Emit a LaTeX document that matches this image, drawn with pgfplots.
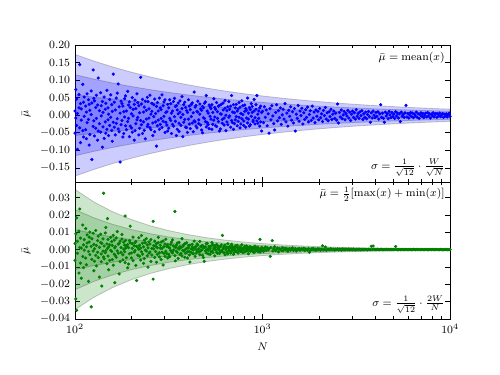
\documentclass[border=0pt]{standalone}
\usepackage{pgfplots}
\pgfplotsset{compat=1.18}
\usepackage{pgfplotstable}
\definecolor{mplblue}{RGB}{0,0,255}
\definecolor{mplgreen}{RGB}{0,128,0}

\pgfplotstableread{
N a b
100 0.012 -0.051
101 0.073 -0.008
102 -0.029 0.046
103 0.005 -0.097
105 0.059 0.021
106 0.144 -0.036
107 -0.078 0.033
108 0.018 -0.014
110 -0.044 0.088
111 0.037 -0.062
112 -0.003 0.052
114 0.026 -0.041
115 -0.067 0.009
116 0.061 -0.021
118 -0.012 0.044
119 0.031 -0.085
120 -0.055 0.014
122 0.002 0.069
123 -0.126 0.035
125 0.129 -0.032
126 -0.016 0.048
127 0.041 -0.059
129 -0.037 0.022
130 0.057 -0.009
132 -0.071 0.029
133 0.106 -0.045
135 0.013 -0.024
137 -0.048 0.064
138 0.027 -0.002
140 -0.091 0.039
141 0.008 -0.033
143 0.052 -0.066
145 -0.019 0.017
146 0.034 -0.051
148 -0.040 0.071
150 0.021 -0.013
151 -0.058 0.003
153 0.045 -0.029
155 -0.006 0.058
157 0.030 -0.043
158 -0.074 0.011
160 0.117 -0.020
162 -0.034 0.037
164 0.015 -0.056
166 -0.023 0.049
168 0.063 -0.010
170 0.089 -0.039
172 -0.047 0.024
174 -0.133 0.006
176 0.040 -0.027
178 -0.015 0.033
180 0.026 -0.062
182 -0.052 0.010
184 0.047 -0.005
186 -0.030 0.055
188 0.012 -0.041
191 0.068 -0.018
193 -0.009 0.029
195 -0.061 0.038
197 0.022 -0.031
200 -0.036 0.004
202 0.050 -0.048
204 -0.002 0.017
207 0.031 -0.071
209 -0.044 0.043
211 0.019 -0.024
214 -0.013 0.061
216 0.036 -0.006
219 -0.056 0.027
221 0.007 -0.037
224 0.108 -0.015
226 -0.027 0.032
229 0.045 -0.052
232 -0.019 0.009
234 0.023 -0.043
237 -0.067 0.040
240 0.014 -0.011
243 -0.032 0.051
245 0.039 -0.026
248 -0.008 0.018
251 0.057 -0.035
254 -0.041 0.003
257 0.011 0.034
260 -0.022 -0.058
263 0.030 -0.004
266 -0.047 0.046
269 0.005 -0.019
272 -0.088 0.025
275 0.036 -0.030
278 -0.014 0.012
282 0.049 -0.040
285 -0.026 0.021
288 0.016 -0.009
291 -0.035 0.058
295 0.027 -0.017
298 -0.003 0.038
302 0.044 -0.049
305 -0.020 0.008
309 0.010 -0.028
312 -0.045 0.031
}\topA

\pgfplotstableread{
N a b
316 0.021 -0.037
320 -0.009 0.044
324 0.033 -0.015
327 -0.052 0.006
331 0.012 -0.026
335 -0.031 0.039
339 0.048 -0.004
343 -0.017 0.025
347 0.027 -0.058
351 -0.040 0.015
355 0.004 0.035
359 -0.023 -0.046
363 0.041 0.009
367 -0.006 -0.029
372 0.019 0.053
376 -0.061 0.002
380 0.030 -0.020
385 -0.012 0.037
389 0.022 -0.034
394 -0.035 0.013
398 0.008 -0.049
403 0.044 -0.011
407 -0.025 0.026
412 0.016 -0.038
417 -0.004 0.031
422 0.035 -0.022
427 -0.047 0.007
432 0.066 -0.016
437 -0.019 0.023
442 0.028 -0.031
447 -0.036 0.011
452 0.009 0.040
457 -0.013 -0.024
463 0.032 0.003
468 -0.028 0.018
473 0.014 -0.042
479 -0.050 0.025
484 0.021 -0.007
490 -0.009 0.034
496 0.038 -0.018
501 0.056 -0.033
507 -0.021 0.012
513 0.006 -0.027
519 -0.038 0.029
525 0.024 -0.003
531 -0.011 0.019
537 0.030 -0.040
543 -0.026 0.008
550 0.047 -0.014
556 -0.005 0.022
562 0.017 -0.030
569 -0.032 0.036
575 0.010 -0.009
582 -0.018 0.026
589 0.028 -0.045
596 -0.039 0.004
603 0.003 0.031
610 -0.023 -0.012
617 0.035 0.015
624 -0.008 -0.028
631 0.020 0.042
638 -0.044 0.000
646 0.013 -0.019
653 -0.027 0.024
661 0.039 -0.006
668 -0.002 0.017
676 0.026 -0.034
684 0.056 -0.015
692 -0.021 0.009
700 -0.040 0.030
708 0.007 -0.024
716 -0.013 0.021
724 0.031 -0.004
733 -0.030 0.012
741 0.018 -0.017
750 -0.006 0.036
759 0.023 -0.036
767 -0.025 0.005
776 0.041 -0.010
785 0.002 0.027
794 -0.016 -0.029
804 0.029 0.011
813 -0.034 0.019
822 0.014 -0.008
832 0.049 -0.022
841 -0.011 0.006
851 0.022 -0.031
861 -0.027 0.016
871 0.033 -0.003
881 0.008 0.025
891 -0.019 -0.014
902 0.045 0.012
912 -0.007 -0.025
923 0.017 0.030
933 0.056 -0.016
944 -0.023 0.003
955 0.012 -0.009
966 -0.031 0.021
977 0.026 -0.019
989 -0.045 0.008
}\topB

\pgfplotstableread{
N a
1000 0.011
1012 -0.021
1023 0.024
1035 -0.006
1047 0.015
1059 -0.030
1072 0.004
1084 -0.051
1096 0.019
1109 -0.013
1122 0.027
1135 -0.002
1148 -0.024
1161 -0.042
1175 0.008
1189 0.030
1202 -0.016
1216 0.013
1230 -0.007
1245 0.021
1259 -0.026
1274 0.001
1288 0.017
1303 -0.011
1318 0.033
1334 -0.019
1349 0.006
1365 -0.031
1380 0.014
1396 -0.003
1413 0.024
1429 -0.014
1445 0.010
1462 -0.022
1479 0.019
1496 -0.045
1514 0.003
1531 -0.009
1549 0.028
1567 -0.017
1585 0.012
1603 -0.001
1622 0.020
1641 -0.025
1660 0.007
1679 -0.012
1698 0.016
1718 -0.006
1738 0.023
1758 -0.019
1778 0.002
1799 0.013
1820 -0.015
1841 0.026
1862 -0.008
1884 0.009
1905 -0.021
1928 0.015
1950 -0.003
1972 0.011
1995 -0.013
2018 0.019
2042 -0.007
2065 0.004
2089 -0.018
2113 0.014
2138 -0.001
2163 0.022
2188 -0.011
2213 0.007
2239 -0.016
2265 0.010
2291 -0.004
2317 0.017
2344 -0.012
2371 0.003
2399 0.012
2427 -0.009
2455 0.006
2483 -0.014
2512 0.032
2541 -0.022
2570 0.008
2600 -0.005
2630 0.015
2661 -0.010
2692 0.001
2723 0.011
2754 -0.013
2786 0.005
2818 -0.002
2851 0.014
2884 -0.008
2917 0.009
2951 -0.015
2985 0.003
3020 0.012
3055 -0.006
3090 0.007
3126 -0.011
3162 0.016
3199 -0.003
3236 0.005
3273 -0.009
3311 0.010
3350 -0.001
3388 0.013
3428 -0.012
3467 0.004
3508 -0.006
3548 0.009
3589 -0.010
3631 0.002
3673 0.011
3715 -0.004
3758 -0.020
3802 0.007
3846 -0.008
3890 0.012
3936 0.000
3981 -0.007
4027 0.008
4074 -0.003
4121 0.010
4169 -0.011
4217 0.004
4266 0.030
4315 -0.006
4365 0.006
4416 -0.009
4467 -0.020
4519 0.009
4571 -0.002
4624 0.005
4677 -0.010
4732 0.011
4786 0.001
4842 -0.007
4898 0.008
4955 -0.004
5012 0.003
5070 -0.009
5129 0.010
5188 -0.002
5248 0.006
5309 -0.008
5370 0.004
5433 -0.018
5495 0.009
5559 -0.003
5623 0.002
5689 -0.006
5754 0.007
5821 0.028
5888 -0.005
5957 0.005
6026 -0.008
6095 0.001
6166 0.008
6237 -0.004
6310 0.006
6383 -0.007
6457 0.003
6531 -0.002
6607 0.009
6683 -0.006
6761 0.004
6839 -0.009
6918 0.002
6998 0.007
7079 -0.003
7161 0.005
7244 -0.007
7328 0.000
7413 0.006
7499 -0.005
7586 0.008
7674 -0.002
7762 0.004
7852 -0.008
7943 0.003
8035 -0.001
8128 0.007
8222 -0.005
8318 0.002
8414 0.005
8511 -0.006
8610 0.004
8710 -0.002
8810 0.006
8913 -0.004
9016 0.001
9120 0.005
9226 -0.006
9333 0.003
9441 -0.002
9550 0.004
9661 -0.005
9772 0.002
9886 0.006
10000 -0.003
}\topC

\pgfplotstableread{
N a b
100 0.0035 -0.0062
101 -0.0284 0.0091
102 0.0183 -0.0350
103 -0.0021 0.0048
105 0.0107 -0.0135
106 0.0234 0.0012
107 -0.0078 0.0066
108 0.0009 -0.0165
110 0.0142 -0.0040
111 -0.0104 0.0027
112 0.0058 -0.0003
114 -0.0049 0.0121
115 0.0016 -0.0087
116 0.0085 0.0038
118 -0.0183 -0.0011
119 0.0044 0.0072
120 -0.0029 0.0101
122 -0.0330 0.0019
123 0.0063 -0.0056
125 -0.0008 0.0095
126 0.0030 -0.0122
127 -0.0067 0.0005
129 0.0110 -0.0033
130 0.0024 -0.0094
132 -0.0015 0.0052
133 0.0078 -0.0046
135 -0.0158 0.0013
137 0.0041 0.0089
138 -0.0025 -0.0070
139 -0.0210 0.0036
141 0.0062 -0.0009
142 0.0325 -0.0042
143 -0.0053 0.0021
145 0.0096 -0.0018
146 -0.0006 0.0128
148 0.0033 -0.0081
149 0.0179 0.0007
150 -0.0037 0.0059
151 0.0015 -0.0116
153 -0.0062 0.0028
155 0.0071 -0.0004
157 -0.0011 0.0046
158 0.0024 -0.0058
160 -0.0090 0.0082
162 0.0055 -0.0026
163 -0.0191 0.0010
164 0.0017 -0.0035
166 -0.0044 0.0068
168 0.0104 -0.0007
170 -0.0021 0.0031
172 0.0036 -0.0140
174 -0.0069 0.0049
176 0.0012 -0.0016
178 0.0061 0.0087
180 -0.0030 -0.0059
182 0.0043 0.0003
184 -0.0012 0.0026
185 0.0194 -0.0075
186 0.0008 0.0053
188 -0.0047 0.0018
191 0.0029 -0.0105
193 -0.0083 0.0011
195 0.0052 -0.0024
197 0.0135 0.0040
200 -0.0019 -0.0048
202 0.0034 0.0007
204 -0.0064 0.0072
207 0.0022 -0.0014
209 -0.0005 0.0041
211 0.0047 -0.0091
213 -0.0178 0.0019
216 0.0013 -0.0032
219 0.0068 0.0002
221 -0.0038 0.0025
224 0.0009 -0.0060
226 0.0081 -0.0012
229 -0.0026 0.0037
232 0.0016 -0.0079
234 -0.0052 0.0054
237 0.0039 -0.0003
240 -0.0008 0.0063
243 0.0027 -0.0036
245 -0.0101 0.0010
248 0.0045 -0.0020
251 -0.0014 0.0032
254 0.0058 -0.0068
257 -0.0031 0.0006
261 0.0163 -0.0170
263 0.0004 0.0023
266 -0.0045 0.0049
269 0.0020 -0.0011
272 -0.0073 0.0035
275 0.0011 -0.0027
278 0.0040 0.0071
282 -0.0018 -0.0042
285 0.0025 0.0008
288 -0.0057 0.0044
291 0.0007 -0.0015
295 0.0050 -0.0089
298 -0.0022 0.0017
302 0.0032 -0.0039
305 -0.0010 0.0060
309 0.0018 -0.0024
312 -0.0048 0.0029
}\botA

\pgfplotstableread{
N a b
316 0.0015 -0.0027
320 -0.0041 0.0009
324 0.0030 -0.0006
327 -0.0012 0.0044
331 0.0056 -0.0019
335 -0.0003 0.0021
341 0.0220 -0.0035
343 -0.0065 0.0012
347 0.0025 -0.0009
351 -0.0016 0.0038
355 0.0008 -0.0051
359 0.0042 0.0003
363 -0.0028 0.0017
367 0.0011 -0.0022
372 -0.0037 0.0063
376 0.0019 -0.0005
380 -0.0007 0.0028
385 0.0034 -0.0044
389 -0.0020 0.0002
394 0.0006 0.0040
398 -0.0048 -0.0013
403 0.0023 0.0010
407 -0.0010 -0.0031
410 -0.0072 0.0026
417 0.0004 -0.0016
422 0.0031 0.0014
427 -0.0024 -0.0002
432 0.0012 0.0049
437 -0.0039 0.0007
442 0.0018 -0.0020
447 -0.0005 0.0033
452 0.0027 -0.0011
457 -0.0014 0.0005
463 0.0047 -0.0030
468 -0.0008 0.0016
473 0.0021 -0.0003
479 -0.0033 0.0024
484 0.0009 -0.0046
489 -0.0068 0.0013
496 0.0015 -0.0007
501 -0.0019 0.0035
507 0.0036 0.0001
513 -0.0004 -0.0025
519 0.0011 0.0019
525 -0.0027 0.0006
531 0.0020 -0.0012
537 -0.0009 0.0041
543 0.0029 -0.0017
550 0.0003 0.0010
556 -0.0036 0.0022
562 0.0013 -0.0001
569 -0.0015 0.0030
575 0.0024 -0.0021
582 0.0000 0.0008
589 -0.0023 0.0016
596 0.0017 -0.0009
603 -0.0006 0.0027
611 0.0082 -0.0013
617 0.0010 0.0004
624 -0.0018 0.0021
631 0.0026 -0.0030
638 -0.0002 0.0009
646 0.0014 -0.0016
653 -0.0025 0.0034
661 0.0007 -0.0004
668 0.0019 0.0012
676 -0.0011 -0.0020
684 0.0031 0.0005
692 -0.0004 0.0017
700 0.0009 -0.0027
708 -0.0016 0.0001
716 0.0022 0.0011
724 -0.0008 -0.0012
733 0.0013 0.0025
741 -0.0020 0.0003
750 0.0005 -0.0007
759 0.0016 0.0014
767 -0.0012 -0.0003
776 0.0028 0.0008
785 -0.0001 -0.0018
794 0.0010 0.0006
804 -0.0014 0.0019
813 0.0006 -0.0009
822 0.0021 0.0002
832 -0.0007 0.0012
841 0.0003 -0.0024
851 0.0015 0.0007
861 -0.0010 0.0016
871 0.0008 -0.0004
881 -0.0003 0.0011
891 0.0012 -0.0013
902 -0.0017 0.0005
912 0.0004 0.0020
923 0.0009 -0.0006
933 -0.0005 0.0010
944 0.0014 -0.0011
955 -0.0009 0.0003
970 0.0059 -0.0015
977 0.0002 0.0007
989 -0.0006 0.0012
}\botB

\pgfplotstableread{
N a
1000 0.0008
1012 -0.0011
1023 0.0003
1035 0.0015
1047 -0.0005
1059 0.0010
1072 -0.0002
1084 0.0006
1100 -0.0039
1109 0.0012
1127 0.0052
1135 -0.0008
1148 0.0004
1161 0.0017
1175 -0.0006
1189 0.0002
1202 0.0009
1216 -0.0013
1230 0.0005
1245 0.0001
1259 -0.0004
1274 0.0011
1288 -0.0007
1303 0.0003
1318 0.0008
1334 -0.0002
1349 0.0005
1365 -0.0010
1380 0.0002
1396 0.0007
1413 -0.0003
1429 0.0004
1445 0.0010
1462 -0.0005
1479 0.0001
1496 0.0006
1514 -0.0008
1531 0.0003
1549 0.0000
1567 0.0007
1585 -0.0004
1603 0.0002
1622 0.0005
1641 -0.0001
1660 0.0008
1679 -0.0006
1698 0.0003
1718 0.0001
1738 -0.0003
1758 0.0006
1778 -0.0016
1799 -0.0005
1820 0.0004
1841 0.0000
1862 0.0007
1884 -0.0002
1905 0.0003
1928 -0.0004
1950 0.0001
1972 0.0005
1995 -0.0001
2018 0.0003
2042 -0.0003
2065 0.0002
2089 0.0022
2113 -0.0002
2138 0.0001
2163 0.0015
2188 -0.0004
2213 0.0002
2239 0.0000
2265 0.0003
2291 -0.0002
2317 0.0005
2344 0.0001
2371 -0.0001
2399 0.0003
2427 -0.0003
2455 0.0002
2483 0.0000
2512 0.0004
2541 -0.0002
2570 0.0003
2600 0.0001
2630 -0.0003
2661 0.0004
2692 0.0000
2723 0.0002
2754 -0.0002
2786 0.0003
2818 0.0001
2851 -0.0001
2884 0.0004
2917 -0.0002
2951 0.0001
2985 0.0002
3020 -0.0001
3055 0.0003
3090 0.0000
3126 -0.0002
3162 0.0002
3199 0.0001
3236 -0.0001
3273 0.0003
3311 0.0000
3350 -0.0002
3388 0.0002
3428 0.0001
3467 -0.0001
3508 0.0002
3548 0.0000
3589 0.0001
3631 -0.0002
3673 0.0002
3715 0.0001
3758 -0.0001
3802 0.0019
3846 0.0000
3890 0.0021
3936 0.0002
3981 0.0001
4027 -0.0001
4074 0.0001
4121 0.0002
4169 0.0000
4217 -0.0001
4266 0.0001
4315 0.0002
4365 -0.0001
4416 0.0000
4467 0.0001
4519 -0.0001
4571 0.0002
4624 0.0000
4677 0.0001
4732 -0.0001
4786 0.0001
4842 0.0000
4898 0.0001
4955 -0.0001
5012 0.0001
5070 0.0000
5129 0.0018
5188 0.0001
5248 -0.0001
5309 0.0000
5370 0.0001
5433 -0.0001
5495 0.0001
5559 0.0000
5623 0.0001
5689 -0.0001
5754 0.0000
5821 0.0001
5888 0.0000
5957 -0.0001
6026 0.0001
6095 0.0000
6166 0.0001
6237 -0.0001
6310 0.0000
6383 0.0001
6457 0.0000
6531 -0.0001
6607 0.0001
6683 0.0000
6761 0.0000
6839 0.0001
6918 -0.0001
6998 0.0000
7079 0.0001
7161 0.0000
7244 -0.0001
7328 0.0000
7413 0.0001
7499 0.0000
7586 0.0000
7674 -0.0001
7762 0.0001
7852 0.0000
7943 0.0000
8035 0.0001
8128 0.0000
8222 -0.0001
8318 0.0000
8414 0.0001
8511 0.0000
8610 0.0000
8710 -0.0001
8810 0.0000
8913 0.0001
9016 0.0000
9120 0.0000
9226 -0.0001
9333 0.0000
9441 0.0001
9550 0.0000
9661 0.0000
9772 -0.0001
9886 0.0000
10000 0.0001
}\botC

\pgfplotsset{
  mybandstyle/.style={fill=#1, fill opacity=0.2, draw=black, draw opacity=0.2, line width=0.6pt},
  mydotstyle/.style={color=#1, only marks, mark=*, mark size=0.95pt, mark options={draw=none, fill=#1}},
}

\begin{document}
\begin{tikzpicture}
\path[use as bounding box] (-54.2pt,-39.8pt) rectangle (307.1pt,230.5pt);

\begin{axis}[xmode=log, xmin=100, xmax=10000,
  scale only axis, width=271pt, height=99pt,
  tick align=inside,
  major tick length=3.5pt, minor tick length=2pt,
  tick style={black, line width=0.5pt},
  axis line style={line width=0.6pt},
  tick label style={font=\footnotesize},
  label style={font=\footnotesize},
  scaled y ticks=false,
  yticklabel style={/pgf/number format/fixed, /pgf/number format/fixed zerofill, /pgf/number format/precision=2},
  at={(0pt,99pt)}, anchor=south west,
  ymin=-0.19, ymax=0.2,
  ytick={-0.15,-0.10,-0.05,0,0.05,0.10,0.15,0.20},
  xticklabels={},
  ylabel={$\bar{\mu}$}]
\addplot[mybandstyle=mplblue] coordinates {(100,0.17321) (125.9,0.15438) (158.5,0.13758) (199.5,0.12261) (251.2,0.10929) (316.2,0.09741) (398.1,0.08682) (501.2,0.07737) (631,0.06894) (794.3,0.06144) (1000,0.05478) (1259,0.04881) (1585,0.04350) (1995,0.03879) (2512,0.03456) (3162,0.03081) (3981,0.02745) (5012,0.02448) (6310,0.02181) (7943,0.01944) (10000,0.01732)
 (10000,-0.01732) (7943,-0.01944) (6310,-0.02181) (5012,-0.02448) (3981,-0.02745) (3162,-0.03081) (2512,-0.03456) (1995,-0.03879) (1585,-0.04350) (1259,-0.04881) (1000,-0.05478) (794.3,-0.06144) (631,-0.06894) (501.2,-0.07737) (398.1,-0.08682) (316.2,-0.09741) (251.2,-0.10929) (199.5,-0.12261) (158.5,-0.13758) (125.9,-0.15438) (100,-0.17321)} -- cycle;
\addplot[mybandstyle=mplblue] coordinates {(100,0.11547) (125.9,0.10292) (158.5,0.09172) (199.5,0.08174) (251.2,0.07286) (316.2,0.06494) (398.1,0.05788) (501.2,0.05158) (631,0.04596) (794.3,0.04096) (1000,0.03652) (1259,0.03254) (1585,0.02900) (1995,0.02586) (2512,0.02304) (3162,0.02054) (3981,0.01830) (5012,0.01632) (6310,0.01454) (7943,0.01296) (10000,0.01155)
 (10000,-0.01155) (7943,-0.01296) (6310,-0.01454) (5012,-0.01632) (3981,-0.01830) (3162,-0.02054) (2512,-0.02304) (1995,-0.02586) (1585,-0.02900) (1259,-0.03254) (1000,-0.03652) (794.3,-0.04096) (631,-0.04596) (501.2,-0.05158) (398.1,-0.05788) (316.2,-0.06494) (251.2,-0.07286) (199.5,-0.08174) (158.5,-0.09172) (125.9,-0.10292) (100,-0.11547)} -- cycle;
\addplot[mybandstyle=mplblue] coordinates {(100,0.05774) (125.9,0.05146) (158.5,0.04586) (199.5,0.04087) (251.2,0.03643) (316.2,0.03247) (398.1,0.02894) (501.2,0.02579) (631,0.02298) (794.3,0.02048) (1000,0.01826) (1259,0.01627) (1585,0.01450) (1995,0.01293) (2512,0.01152) (3162,0.01027) (3981,0.00915) (5012,0.00816) (6310,0.00727) (7943,0.00648) (10000,0.00577)
 (10000,-0.00577) (7943,-0.00648) (6310,-0.00727) (5012,-0.00816) (3981,-0.00915) (3162,-0.01027) (2512,-0.01152) (1995,-0.01293) (1585,-0.01450) (1259,-0.01627) (1000,-0.01826) (794.3,-0.02048) (631,-0.02298) (501.2,-0.02579) (398.1,-0.02894) (316.2,-0.03247) (251.2,-0.03643) (199.5,-0.04087) (158.5,-0.04586) (125.9,-0.05146) (100,-0.05774)} -- cycle;
\addplot[mydotstyle=mplblue] table[x=N, y=a] {\topA};
\addplot[mydotstyle=mplblue] table[x=N, y=b] {\topA};
\addplot[mydotstyle=mplblue] table[x=N, y=a] {\topB};
\addplot[mydotstyle=mplblue] table[x=N, y=b] {\topB};
\addplot[mydotstyle=mplblue] table[x=N, y=a] {\topC};
\node[anchor=north east, font=\footnotesize, inner sep=1pt] at (rel axis cs:0.99,0.96) {$\bar{\mu} = {\rm mean}(x)$};
\node[anchor=south east, font=\footnotesize, inner sep=1pt] at (rel axis cs:0.99,0.03) {$\sigma = \frac{1}{\sqrt{12}} \cdot \frac{W}{\sqrt{N}}$};
\end{axis}

\begin{axis}[xmode=log, xmin=100, xmax=10000,
  scale only axis, width=271pt, height=99pt,
  tick align=inside,
  major tick length=3.5pt, minor tick length=2pt,
  tick style={black, line width=0.5pt},
  axis line style={line width=0.6pt},
  tick label style={font=\footnotesize},
  label style={font=\footnotesize},
  scaled y ticks=false,
  yticklabel style={/pgf/number format/fixed, /pgf/number format/fixed zerofill, /pgf/number format/precision=2},
  at={(0pt,0pt)}, anchor=south west,
  ymin=-0.04, ymax=0.039,
  ytick={-0.04,-0.03,-0.02,-0.01,0,0.01,0.02,0.03},
  xlabel={$N$},
  ylabel={$\bar{\mu}$}]
\addplot[mybandstyle=mplgreen] coordinates {(100,0.034641) (125.9,0.027516) (158.5,0.021858) (199.5,0.017364) (251.2,0.013791) (316.2,0.010953) (398.1,0.008700) (501.2,0.006912) (631,0.005490) (794.3,0.004362) (1000,0.003464) (1259,0.002751) (1585,0.002187) (1995,0.001737) (2512,0.001380) (3162,0.001095) (3981,0.000870) (5012,0.000690) (6310,0.000549) (7943,0.000436) (10000,0.000346)
 (10000,-0.000346) (7943,-0.000436) (6310,-0.000549) (5012,-0.000690) (3981,-0.000870) (3162,-0.001095) (2512,-0.001380) (1995,-0.001737) (1585,-0.002187) (1259,-0.002751) (1000,-0.003464) (794.3,-0.004362) (631,-0.005490) (501.2,-0.006912) (398.1,-0.008700) (316.2,-0.010953) (251.2,-0.013791) (199.5,-0.017364) (158.5,-0.021858) (125.9,-0.027516) (100,-0.034641)} -- cycle;
\addplot[mybandstyle=mplgreen] coordinates {(100,0.023094) (125.9,0.018344) (158.5,0.014572) (199.5,0.011576) (251.2,0.009194) (316.2,0.007302) (398.1,0.005800) (501.2,0.004608) (631,0.003660) (794.3,0.002908) (1000,0.002309) (1259,0.001834) (1585,0.001458) (1995,0.001158) (2512,0.000920) (3162,0.000730) (3981,0.000580) (5012,0.000460) (6310,0.000366) (7943,0.000291) (10000,0.000231)
 (10000,-0.000231) (7943,-0.000291) (6310,-0.000366) (5012,-0.000460) (3981,-0.000580) (3162,-0.000730) (2512,-0.000920) (1995,-0.001158) (1585,-0.001458) (1259,-0.001834) (1000,-0.002309) (794.3,-0.002908) (631,-0.003660) (501.2,-0.004608) (398.1,-0.005800) (316.2,-0.007302) (251.2,-0.009194) (199.5,-0.011576) (158.5,-0.014572) (125.9,-0.018344) (100,-0.023094)} -- cycle;
\addplot[mybandstyle=mplgreen] coordinates {(100,0.011547) (125.9,0.009172) (158.5,0.007286) (199.5,0.005788) (251.2,0.004597) (316.2,0.003651) (398.1,0.002900) (501.2,0.002304) (631,0.001830) (794.3,0.001454) (1000,0.001155) (1259,0.000917) (1585,0.000729) (1995,0.000579) (2512,0.000460) (3162,0.000365) (3981,0.000290) (5012,0.000230) (6310,0.000183) (7943,0.000145) (10000,0.000115)
 (10000,-0.000115) (7943,-0.000145) (6310,-0.000183) (5012,-0.000230) (3981,-0.000290) (3162,-0.000365) (2512,-0.000460) (1995,-0.000579) (1585,-0.000729) (1259,-0.000917) (1000,-0.001155) (794.3,-0.001454) (631,-0.001830) (501.2,-0.002304) (398.1,-0.002900) (316.2,-0.003651) (251.2,-0.004597) (199.5,-0.005788) (158.5,-0.007286) (125.9,-0.009172) (100,-0.011547)} -- cycle;
\addplot[mydotstyle=mplgreen] table[x=N, y=a] {\botA};
\addplot[mydotstyle=mplgreen] table[x=N, y=b] {\botA};
\addplot[mydotstyle=mplgreen] table[x=N, y=a] {\botB};
\addplot[mydotstyle=mplgreen] table[x=N, y=b] {\botB};
\addplot[mydotstyle=mplgreen] table[x=N, y=a] {\botC};
\node[anchor=north east, font=\footnotesize, inner sep=1pt] at (rel axis cs:0.99,0.975) {$\bar{\mu} = \frac{1}{2}[\max(x) + \min(x)]$};
\node[anchor=south east, font=\footnotesize, inner sep=1pt] at (rel axis cs:0.99,0.03) {$\sigma = \frac{1}{\sqrt{12}} \cdot \frac{2W}{N}$};
\end{axis}
\end{tikzpicture}
\end{document}
